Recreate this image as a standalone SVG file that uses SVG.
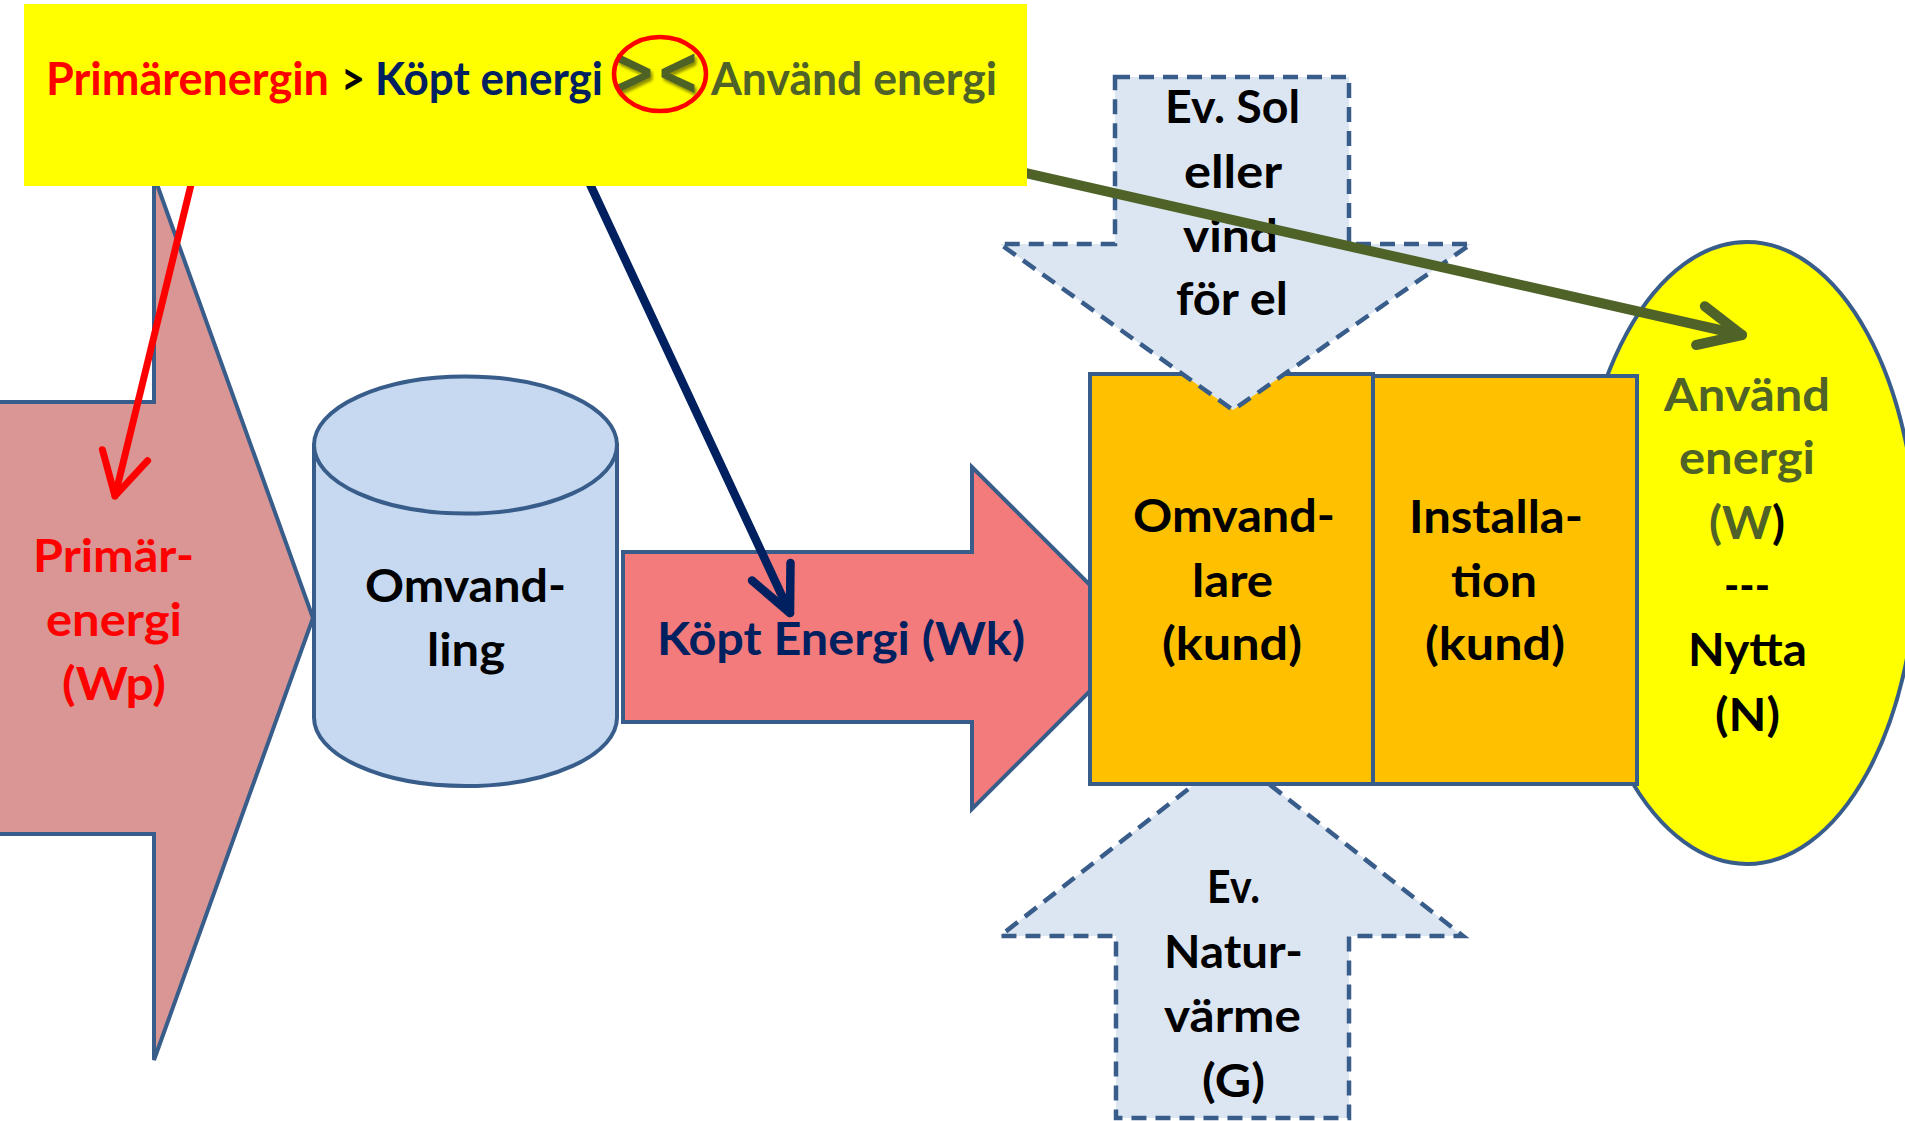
<svg xmlns="http://www.w3.org/2000/svg" width="1905" height="1121" viewBox="0 0 1905 1121">
<defs>
<style>
.t{font-family:Lato,"Liberation Sans",sans-serif;font-weight:700;font-size:45px;}
.blk{fill:#000000;}
.red{fill:#FF0000;}
.navy{fill:#002060;}
.olive{fill:#4F6228;}
.chev{font-family:"DejaVu Sans",sans-serif;font-weight:700;font-size:70px;fill:#4F6228;}
.shape{stroke:#385D8A;stroke-width:4;stroke-linejoin:miter;}
.dash{fill:#DCE6F2;stroke:#385D8A;stroke-width:4.5;stroke-dasharray:15 9;}
.conn{fill:none;stroke-width:8;stroke-linecap:round;stroke-linejoin:round;}
</style>
<filter id="shadow" x="-50%" y="-50%" width="200%" height="200%">
<feDropShadow dx="2" dy="3" stdDeviation="1.5" flood-color="#000000" flood-opacity="0.45"/>
</filter>
</defs>
<rect x="0" y="0" width="1905" height="1121" fill="#FFFFFF"/>

<g id="primarenergi">
<polygon class="shape" fill="#D99694" points="-10,402 154,402 154,176 313,618 154,1060 154,834 -10,834"/>
<text class="t red" x="33" y="572" textLength="161" lengthAdjust="spacingAndGlyphs">Primär-</text>
<text class="t red" x="46" y="636" textLength="136" lengthAdjust="spacingAndGlyphs">energi</text>
<text class="t red" x="62" y="700" textLength="104" lengthAdjust="spacingAndGlyphs">(Wp)</text>
</g>

<g id="omvandling">
<path class="shape" fill="#C6D9F1" d="M314,445 L314,717.5 A151.5,68.5 0 0 0 617,717.5 L617,445 Z"/>
<ellipse class="shape" fill="#C6D9F1" cx="465.5" cy="445" rx="151.5" ry="68.5"/>
<text class="t blk" x="365" y="602" textLength="201" lengthAdjust="spacingAndGlyphs">Omvand-</text>
<text class="t blk" x="427" y="666" textLength="78" lengthAdjust="spacingAndGlyphs">ling</text>
</g>

<g id="kopt-energi">
<polygon class="shape" fill="#F47B7B" points="623,552 972,552 972,467 1143,638 972,809 972,722 623,722"/>
<text class="t navy" x="657" y="655" textLength="368" lengthAdjust="spacingAndGlyphs">Köpt Energi (Wk)</text>
</g>

<g id="anvand-energi">
<ellipse class="shape" fill="#FFFF00" cx="1747" cy="553" rx="170" ry="311"/>
<text class="t olive" x="1664" y="411" textLength="166" lengthAdjust="spacingAndGlyphs">Använd</text>
<text class="t olive" x="1679" y="474" textLength="136" lengthAdjust="spacingAndGlyphs">energi</text>
<text class="t olive" x="1709" y="539" textLength="76" lengthAdjust="spacingAndGlyphs">(W<tspan class="blk">)</tspan></text>
<text class="t blk" x="1724" y="602" textLength="46" lengthAdjust="spacingAndGlyphs">---</text>
<text class="t blk" x="1688" y="666" textLength="119" lengthAdjust="spacingAndGlyphs">Nytta</text>
<text class="t blk" x="1715" y="731" textLength="65" lengthAdjust="spacingAndGlyphs">(N)</text>
</g>

<g id="naturvarme">
<polygon class="dash" points="1232,755 1463,936 1349,936 1349,1118 1116,1118 1116,936 1000,936"/>
<text class="t blk" x="1207" y="903" textLength="53" lengthAdjust="spacingAndGlyphs">Ev.</text>
<text class="t blk" x="1164" y="968" textLength="139" lengthAdjust="spacingAndGlyphs">Natur-</text>
<text class="t blk" x="1164" y="1032" textLength="137" lengthAdjust="spacingAndGlyphs">värme</text>
<text class="t blk" x="1202" y="1097" textLength="63" lengthAdjust="spacingAndGlyphs">(G)</text>
</g>

<g id="installation">
<rect class="shape" fill="#FFC000" x="1373" y="376" width="264" height="408"/>
<text class="t blk" x="1409" y="533" textLength="174" lengthAdjust="spacingAndGlyphs">Installa-</text>
<text class="t blk" x="1451" y="597" textLength="86" lengthAdjust="spacingAndGlyphs">tion</text>
<text class="t blk" x="1425" y="660" textLength="140" lengthAdjust="spacingAndGlyphs">(kund)</text>
</g>

<g id="omvandlare">
<rect class="shape" fill="#FFC000" x="1090" y="374" width="283" height="410"/>
<text class="t blk" x="1133" y="532" textLength="202" lengthAdjust="spacingAndGlyphs">Omvand-</text>
<text class="t blk" x="1192" y="597" textLength="81" lengthAdjust="spacingAndGlyphs">lare</text>
<text class="t blk" x="1162" y="660" textLength="140" lengthAdjust="spacingAndGlyphs">(kund)</text>
</g>

<g id="sol-vind">
<polygon class="dash" points="1115,77 1349,77 1349,244 1471,244 1233,410 1000,244 1115,244"/>
<text class="t blk" x="1165" y="123" textLength="135" lengthAdjust="spacingAndGlyphs">Ev. Sol</text>
<text class="t blk" x="1184" y="188" textLength="98" lengthAdjust="spacingAndGlyphs">eller</text>
<text class="t blk" x="1183" y="252" textLength="95" lengthAdjust="spacingAndGlyphs">vind</text>
<text class="t blk" x="1176" y="315" textLength="112" lengthAdjust="spacingAndGlyphs">för el</text>
</g>

<g id="connectors">
<g id="conn-primar" class="conn" stroke="#FF0000" style="stroke-width:7">
<line x1="198" y1="156" x2="115" y2="496"/>
<polyline points="102.4,449.7 115,496 147.6,460.7"/>
</g>
<g id="conn-kopt" class="conn" stroke="#002060" style="stroke-width:8.5">
<line x1="554" y1="107" x2="790" y2="613"/>
<polyline points="752,580.5 790,613 790.5,563"/>
</g>
<g id="conn-anvand" class="conn" stroke="#4F6228" style="stroke-width:10">
<line x1="981" y1="163" x2="1742" y2="335"/>
<polyline points="1704.8,306.2 1742,335 1696.1,345"/>
</g>
</g>

<g id="banner">
<rect x="24" y="4" width="1003" height="182" fill="#FFFF00"/>
<text class="t red" x="46" y="95" textLength="283" lengthAdjust="spacingAndGlyphs">Primärenergin</text>
<text class="t blk" x="341" y="95" textLength="24" lengthAdjust="spacingAndGlyphs">&gt;</text>
<text class="t navy" x="375" y="95" textLength="228" lengthAdjust="spacingAndGlyphs">Köpt energi</text>
<text class="chev" x="612" y="95" textLength="88" lengthAdjust="spacingAndGlyphs" filter="url(#shadow)">&gt;&lt;</text>
<ellipse cx="660" cy="74" rx="46" ry="37" fill="none" stroke="#FF0000" stroke-width="4.5"/>
<text class="t olive" x="711" y="95" textLength="286" lengthAdjust="spacingAndGlyphs">Använd energi</text>
</g>
</svg>
